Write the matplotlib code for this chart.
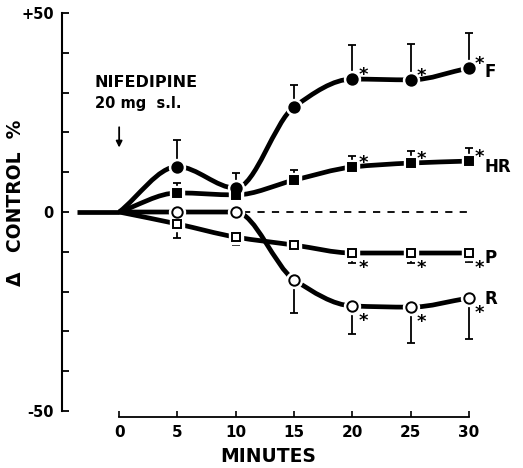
import numpy as np
import matplotlib
matplotlib.use("Agg")
import matplotlib.pyplot as plt
from matplotlib.path import Path
from matplotlib.patches import PathPatch

# response to sublingual nifedipine, % change from control
minutes = [0, 5, 10, 15, 20, 25, 30]
baseline_start = -3.6

f_vals = [0, 11.4, 6.0, 26.4, 33.4, 33.2, 36.2]
f_err = [0, 6.6, 3.8, 5.5, 8.6, 9.0, 8.8]
hr_vals = [0, 4.8, 4.3, 8.0, 11.3, 12.3, 12.8]
hr_err = [0, 2.5, 0, 2.5, 2.7, 3.0, 3.2]
p_vals = [0, -3.0, -6.3, -8.3, -10.3, -10.3, -10.3]
p_err = [0, 3.5, 2.0, 0, 2.5, 2.5, 2.3]
r_vals = [0, 0, 0, -17.0, -23.6, -23.9, -21.6]
r_err = [0, 0, 0, 8.4, 7.1, 9.0, 10.4]

signif_minutes = [20, 25, 30]

plt.rcParams['font.family'] = ['DejaVu Sans']
plt.rcParams['font.weight'] = 'bold'
plt.rcParams['axes.labelweight'] = 'bold'

fig = plt.figure(figsize=(5.23, 4.68), dpi=100)
ax = fig.add_axes([62 / 523, 51 / 468, 407 / 523, 404 / 468])
ax.set_xlim(-4.9, 30)
ax.set_ylim(-51.5, 50)


def smooth_path(xs, ys):
    # monotone cubic (Fritsch-Carlson tangents) as Bezier segments
    x = np.asarray(xs, float)
    y = np.asarray(ys, float)
    h = np.diff(x)
    d = np.diff(y) / h
    m = np.zeros_like(y)
    m[0], m[-1] = d[0], d[-1]
    for i in range(1, len(y) - 1):
        if d[i - 1] * d[i] > 0:
            m[i] = 2.0 / (1.0 / d[i - 1] + 1.0 / d[i])
    verts = [(x[0], y[0])]
    codes = [Path.MOVETO]
    for i in range(len(h)):
        verts += [(x[i] + h[i] / 3, y[i] + m[i] * h[i] / 3),
                  (x[i + 1] - h[i] / 3, y[i + 1] - m[i + 1] * h[i] / 3),
                  (x[i + 1], y[i + 1])]
        codes += [Path.CURVE4] * 3
    return Path(verts, codes)


def draw_series(vals, err, marker, filled, down, msize):
    patch = PathPatch(smooth_path(minutes, vals), fill=False, lw=3.4,
                      edgecolor='black', capstyle='butt', zorder=2)
    patch.set_clip_on(False)
    ax.add_patch(patch)
    x = np.array(minutes[1:])
    y = np.array(vals[1:])
    e = np.array(err[1:])
    lo = np.where(down, e, 0)
    hi = np.where(down, 0, e)
    ax.errorbar(x, y, yerr=[lo, hi], fmt='none', ecolor='black',
                elinewidth=1.3, capsize=3, capthick=1.3, zorder=3,
                clip_on=False)
    # white halo leaves a small gap in the curve around each marker
    ax.plot(x, y, ls='none', marker=marker, ms=msize + 4, mfc='white',
            mec='white', zorder=4, clip_on=False)
    ax.plot(x, y, ls='none', marker=marker, ms=msize,
            mfc='black' if filled else 'white', mec='black', mew=1.4,
            zorder=5, clip_on=False)
    for mnt in signif_minutes:
        i = minutes.index(mnt)
        if down:
            ax.text(mnt + 0.9, vals[i] - 1.5, '*', fontsize=13, ha='center',
                    va='top', zorder=6)
        else:
            ax.text(mnt + 0.9, vals[i] + 1.0, '*', fontsize=13, ha='center',
                    va='center', zorder=6)


# control period
ax.plot([baseline_start, 0], [0, 0], color='black', lw=3.4,
        solid_capstyle='butt', zorder=2)
ax.plot([10.6, 30], [0, 0], color='black', lw=1.3, ls=(0, (4, 4)),
        zorder=1, clip_on=False)

draw_series(f_vals, f_err, 'o', True, False, 7.5)
draw_series(hr_vals, hr_err, 's', True, False, 5.8)
draw_series(p_vals, p_err, 's', False, True, 5.8)
draw_series(r_vals, r_err, 'o', False, True, 7.5)

ax.text(31.3, f_vals[-1] - 1, 'F', fontsize=12, va='center', ha='left')
ax.text(31.3, hr_vals[-1] - 1.5, 'HR', fontsize=12, va='center', ha='left')
ax.text(31.3, p_vals[-1] - 1.3, 'P', fontsize=12, va='center', ha='left')
ax.text(31.3, r_vals[-1] - 0.3, 'R', fontsize=12, va='center', ha='left')

ax.text(-2.1, 32.5, 'NIFEDIPINE', fontsize=11.5, va='center', ha='left')
ax.text(-2.1, 27.2, '20 mg  s.l.', fontsize=10.5, va='center', ha='left')
ax.annotate('', xy=(0, 15.5), xytext=(0, 22),
            arrowprops=dict(arrowstyle='-|>', color='black', lw=1.3,
                            mutation_scale=9))

# axes
for side in ('top', 'right'):
    ax.spines[side].set_visible(False)
ax.spines['left'].set_bounds(-50, 50)
ax.spines['left'].set_linewidth(1.5)
ax.spines['bottom'].set_bounds(0, 30)
ax.spines['bottom'].set_linewidth(1.3)

ax.set_yticks(range(-50, 51, 10))
ax.set_yticklabels(['-50', '', '', '', '', '0', '', '', '', '', '+50'])
ax.set_xticks(minutes)
ax.tick_params(axis='y', direction='in', length=5, width=1.3,
               labelsize=10.5, pad=6)
ax.tick_params(axis='x', direction='in', length=4, width=1.2,
               labelsize=11, pad=6)

ax.set_ylabel('Δ   CONTROL  %', fontsize=13.5)
ax.yaxis.set_label_coords(-0.09, 0.53)
ax.text(12.8, -61.5, 'MINUTES', fontsize=13.5, ha='center', va='center')

fig.savefig('out.png', dpi=100)
